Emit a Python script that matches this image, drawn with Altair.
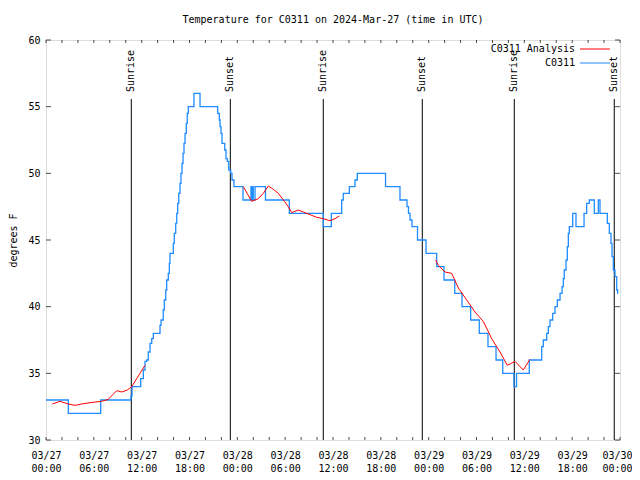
import altair as alt
import pandas as pd

# ---- data (hours since 2024-03-27 00:00 UTC, degrees F)
obs_hours = [0.0, 2.80, 6.86, 10.66, 10.79, 11.88, 12.21, 12.42, 12.63, 12.83, 13.05, 13.26, 13.46,
             14.30, 14.43, 14.71, 14.84, 15.02, 15.14, 15.34, 15.47, 15.55, 15.97, 16.09, 16.27,
             16.40, 16.52, 16.65, 16.81, 16.93, 17.06, 17.19, 17.31, 17.44, 17.60, 17.72, 17.85,
             18.56, 19.32, 21.54, 21.74, 21.83, 21.95, 22.08, 22.42, 22.58, 22.74, 22.92, 23.17,
             23.33, 23.58, 24.71, 25.71, 25.80, 25.93, 26.00, 26.22, 27.53, 30.52, 34.78, 35.79,
             37.09, 37.29, 38.05, 38.76, 39.05, 42.59, 44.40, 45.28, 45.47, 45.66, 45.91, 46.60,
             47.67, 49.01, 49.92, 51.27, 52.18, 53.27, 54.35, 55.44, 56.45, 57.29, 58.70, 59.02,
             60.62, 62.18, 62.38, 62.81, 63.01, 63.22, 63.56, 63.85, 64.14, 64.48, 64.73, 64.89,
             65.01, 65.23, 65.39, 65.52, 65.64, 66.07, 66.48, 67.49, 67.82, 68.15, 68.78, 69.28,
             69.49, 70.41, 70.66, 70.87, 71.00, 71.16, 71.37, 71.59, 71.71, 71.75]
obs_temp = [33, 32, 33, 33.3, 34, 34.6, 35.25, 35.9, 36, 36.6, 37.25, 37.6, 38,
            38.6, 39, 39.75, 40.5, 41.25, 42, 42.5, 43.25, 44, 44.75, 45.5, 46.25,
            47, 47.75, 48.5, 49.25, 50, 50.75, 51.5, 52.25, 53, 53.75, 54.5, 55,
            56, 55, 54.5, 54, 53.5, 53, 52.25, 51.75, 51.1, 50.9, 50.25, 50,
            49.5, 49, 48, 49, 48, 49, 48, 49, 48, 47, 46, 47,
            48, 48.5, 49, 49.5, 50, 49, 48, 47.5, 47, 46.5, 46, 45,
            44, 43, 42, 41, 40, 39, 38, 37, 36, 35, 34, 35,
            36, 37, 37.5, 38, 38.5, 39, 39.5, 40, 40.5, 41, 41.5, 42.1,
            42.75, 43.5, 44.5, 45.5, 46, 47, 46, 47, 47.75, 48, 47, 48,
            47, 46.25, 45.5, 44.75, 43.75, 42.75, 42.25, 41.25, 41, 41]

ana_hours = [0.79, 1.76, 2.80, 3.64, 4.48, 5.52, 6.99, 7.81, 8.37, 8.87, 9.50, 10.20, 10.75, 11.79, 12.42,
             24.75, 25.80, 26.63, 27.26, 27.88, 28.51, 29.14, 29.77, 30.39, 30.82, 31.65, 32.27, 33.12,
             33.96, 34.78, 35.62, 36.25, 36.79,
             48.88, 49.21, 50.05, 50.89, 51.72, 52.77, 53.81, 54.85, 55.91, 56.95, 57.86, 58.83, 59.87, 60.71]
ana_temp = [32.7, 32.9, 32.7, 32.6, 32.7, 32.8, 32.9, 33.05, 33.4, 33.7, 33.6, 33.75, 34, 35, 35.6,
            49, 47.9, 48.1, 48.5, 49.05, 48.8, 48.5, 48, 47.5, 47.05, 47.25, 47.1, 46.9,
            46.7, 46.6, 46.45, 46.6, 46.8,
            43.5, 43.1, 42.6, 42.5, 41.4, 40.5, 39.6, 38.9, 37.6, 36.6, 35.6, 35.9, 35.25, 36.05]
ana_seg = [1] * 15 + [2] * 18 + [3] * 14

sun_hours = [10.70, 23.12, 34.78, 47.20, 58.74, 71.28]
sun_labels = ["Sunrise", "Sunset", "Sunrise", "Sunset", "Sunrise", "Sunset"]

x_tick_hours = list(range(0, 73, 2))
x_label_hours = list(range(0, 73, 6))
y_ticks = [30, 35, 40, 45, 50, 55, 60]

FONT = "DejaVu Sans Mono"
BLUE = "#1e8cff"
RED = "#ff0000"

obs = pd.DataFrame({"h": obs_hours, "t": obs_temp})
ana = pd.DataFrame({"h": ana_hours, "t": ana_temp, "seg": ana_seg})
sun = pd.DataFrame({"h": sun_hours, "label": sun_labels})
xt = pd.DataFrame({"h": x_tick_hours})
yt = pd.DataFrame({"t": y_ticks})

xscale = alt.Scale(domain=[0, 72], nice=False, zero=False)
yscale = alt.Scale(domain=[30, 60], nice=False, zero=False)

label_expr = ("[datum.value % 6 == 0 ? '03/' + (27 + floor(datum.value / 24)) : '', "
              "datum.value % 6 == 0 ? ((datum.value % 24) < 10 ? '0' : '') + (datum.value % 24) + ':00' : '']")

xaxis = alt.Axis(values=x_label_hours, labelExpr=label_expr, ticks=False, domain=False, grid=False,
                 labelFont=FONT, labelFontSize=10, labelColor="black", labelPadding=10,
                 labelLineHeight=13, title=None, labelFlush=False, labelOverlap=False,
                 labelOffset={"condition": {"test": "datum.value == 72", "value": -3}, "value": 0})
yaxis = alt.Axis(values=y_ticks, ticks=False, domain=False, grid=False, labelFont=FONT,
                 labelFontSize=10, labelColor="black", labelPadding=6, title="degrees F",
                 titleFont=FONT, titleFontSize=10, titleFontWeight="normal", titleColor="black",
                 titleX=-33, titleY=200, titleAngle=270, titleAlign="center", titleBaseline="middle")

base_obs = alt.Chart(obs).mark_line(interpolate="step-after", color=BLUE, strokeWidth=1.3).encode(
    x=alt.X("h:Q", scale=xscale, axis=xaxis),
    y=alt.Y("t:Q", scale=yscale, axis=yaxis),
)

ana_line = alt.Chart(ana).mark_line(color=RED, strokeWidth=1).encode(
    x=alt.X("h:Q", scale=xscale),
    y=alt.Y("t:Q", scale=yscale),
    detail="seg:N",
)

sun_rules = alt.Chart(sun).mark_rule(color="black", strokeWidth=1).encode(
    x=alt.X("h:Q", scale=xscale),
    y=alt.value(59),
    y2=alt.value(400),
)
sun_text = alt.Chart(sun).mark_text(angle=270, align="left", baseline="middle", font=FONT,
                                    fontSize=10, color="black").encode(
    x=alt.X("h:Q", scale=xscale),
    y=alt.value(52),
    text="label:N",
)

xt_bottom = alt.Chart(xt).mark_tick(orient="vertical", size=3, thickness=1, color="black").encode(
    x=alt.X("h:Q", scale=xscale), y=alt.value(398.5))
xt_top = alt.Chart(xt).mark_tick(orient="vertical", size=3, thickness=1, color="black").encode(
    x=alt.X("h:Q", scale=xscale), y=alt.value(1.5))
yt_left = alt.Chart(yt).mark_tick(orient="horizontal", size=5, thickness=1, color="black").encode(
    y=alt.Y("t:Q", scale=yscale), x=alt.value(2.5))
yt_right = alt.Chart(yt).mark_tick(orient="horizontal", size=5, thickness=1, color="black").encode(
    y=alt.Y("t:Q", scale=yscale), x=alt.value(571.5))

legend_df = pd.DataFrame({"name": ["C0311 Analysis", "C0311"], "col": [RED, BLUE], "ypix": [9, 23]})
leg_text = alt.Chart(legend_df).mark_text(align="right", baseline="middle", font=FONT, fontSize=10,
                                          color="black").encode(
    x=alt.value(529), y=alt.Y("ypix:Q", scale=None), text="name:N")
leg_line = alt.Chart(legend_df).mark_rule(strokeWidth=1).encode(
    x=alt.value(534), x2=alt.value(564), y=alt.Y("ypix:Q", scale=None),
    color=alt.Color("col:N", scale=None))

chart = alt.layer(
    sun_rules, sun_text, base_obs, ana_line, xt_bottom, xt_top, yt_left, yt_right, leg_line, leg_text
).properties(
    width=574, height=400,
    title=alt.TitleParams("Temperature for C0311 on 2024-Mar-27 (time in UTC)", font=FONT, fontSize=10,
                          fontWeight="normal", color="black", anchor="middle", offset=10),
    autosize=alt.AutoSizeParams(type="none"),
    padding={"left": 38, "top": 32, "right": 12, "bottom": 32},
).configure_view(stroke="black", strokeWidth=1).configure(background="white")

chart.save("out.html", embed_options={"renderer": "svg", "actions": False})
